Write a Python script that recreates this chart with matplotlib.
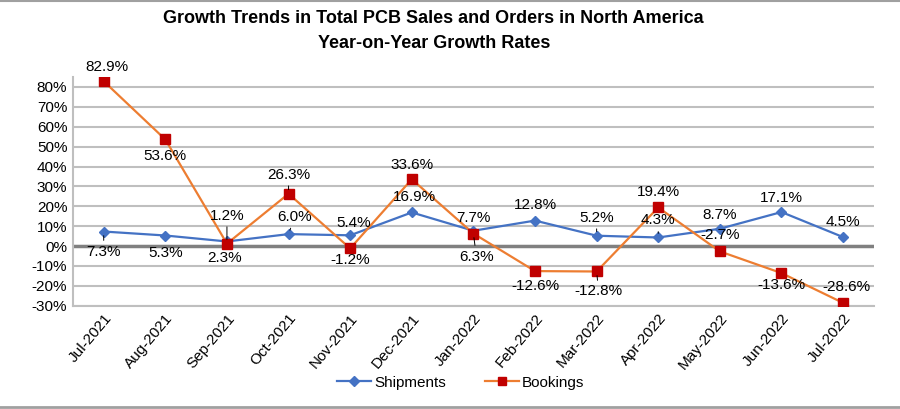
import matplotlib.pyplot as plt
from matplotlib.lines import Line2D

# data
months = ['Jul-2021', 'Aug-2021', 'Sep-2021', 'Oct-2021', 'Nov-2021', 'Dec-2021',
          'Jan-2022', 'Feb-2022', 'Mar-2022', 'Apr-2022', 'May-2022', 'Jun-2022', 'Jul-2022']
shipments = [7.3, 5.3, 2.3, 6.0, 5.4, 16.9, 7.7, 12.8, 5.2, 4.3, 8.7, 17.1, 4.5]
bookings = [82.9, 53.6, 1.2, 26.3, -1.2, 33.6, 6.3, -12.6, -12.8, 19.4, -2.7, -13.6, -28.6]

# label offsets in pixels (dx, dy), leader line flag
ship_off = [(0, -20, 1), (0, -17, 0), (-2, -17, 0), (6, 17, 1), (3, 12, 0), (3, 15, 0), (0, 13, 0),
            (0, 16, 0), (0, 18, 1), (0, 17, 1), (0, 14, 0), (0, 14, 0), (0, 15, 0)]
book_off = [(3, 14, 0), (0, -17, 0), (0, 28, 1), (0, 19, 1), (0, -12, 0), (0, 14, 0), (3, -23, 1),
            (0, -15, 0), (2, -20, 1), (0, 15, 0), (0, 16, 0), (0, -12, 0), (3, 16, 0)]

plt.rcParams['font.family'] = ['Liberation Sans', 'DejaVu Sans']

fig = plt.figure(figsize=(9, 4.09), dpi=100)
ax = fig.add_axes([0.081, 0.2526, 0.890, 0.559])

x = list(range(len(months)))
ax.axhline(0, color='#808080', lw=2.5, zorder=1)
ax.plot(x, shipments, color='#4472C4', lw=1.6, marker='D', ms=5.5, mfc='#4472C4', mec='#4472C4',
        label='Shipments', zorder=3)
ax.plot(x, bookings, color='#ED7D31', lw=1.6, marker='s', ms=7, mfc='#C00000', mec='#C00000',
        label='Bookings', zorder=4)

for vals, offs in [(shipments, ship_off), (bookings, book_off)]:
    for xi, v, (dx, dy, lead) in zip(x, vals, offs):
        ap = dict(arrowstyle='-', color='black', lw=0.7, shrinkA=1, shrinkB=3) if lead else None
        ax.annotate(f'{v:.1f}%', (xi, v), xytext=(dx, dy), textcoords='offset pixels',
                    ha='center', va='center', fontsize=11, arrowprops=ap, zorder=5)

ax.set_xlim(-0.5, len(months) - 0.5)
ax.set_ylim(-30, 85)
ax.set_yticks(range(-30, 81, 10))
ax.set_yticklabels([f'{t}%' for t in range(-30, 81, 10)], fontsize=11)
ax.set_xticks(x)
ax.set_xticklabels(months, rotation=50, ha='right', rotation_mode='anchor', fontsize=11)
ax.tick_params(length=0, pad=4)
ax.grid(axis='y', color='#BFBFBF', lw=1.5, zorder=0)
ax.set_axisbelow(True)
for s in ['top', 'right']:
    ax.spines[s].set_visible(False)
ax.spines['left'].set_color('#BFBFBF')
ax.spines['left'].set_linewidth(1.5)
ax.spines['bottom'].set_color('#BFBFBF')
ax.spines['bottom'].set_linewidth(1.5)

fig.text(0.482, 0.955, 'Growth Trends in Total PCB Sales and Orders in North America',
         ha='center', va='center', fontsize=13, fontweight='bold')
fig.text(0.482, 0.893, 'Year-on-Year Growth Rates',
         ha='center', va='center', fontsize=13, fontweight='bold')

fig.legend(loc='center', bbox_to_anchor=(0.512, 0.064), ncol=2, frameon=False, fontsize=11,
           handlelength=2.2, columnspacing=2.6, handletextpad=0.2, markerscale=0.85)

# thin grey rules at the top and bottom of the picture
fig.add_artist(Line2D([0, 1], [0.998, 0.998], transform=fig.transFigure, color='#A0A0A0', lw=1.5))
fig.add_artist(Line2D([0, 1], [0.004, 0.004], transform=fig.transFigure, color='#A0A0A0', lw=2))
fig.savefig('out.png', dpi=100)
